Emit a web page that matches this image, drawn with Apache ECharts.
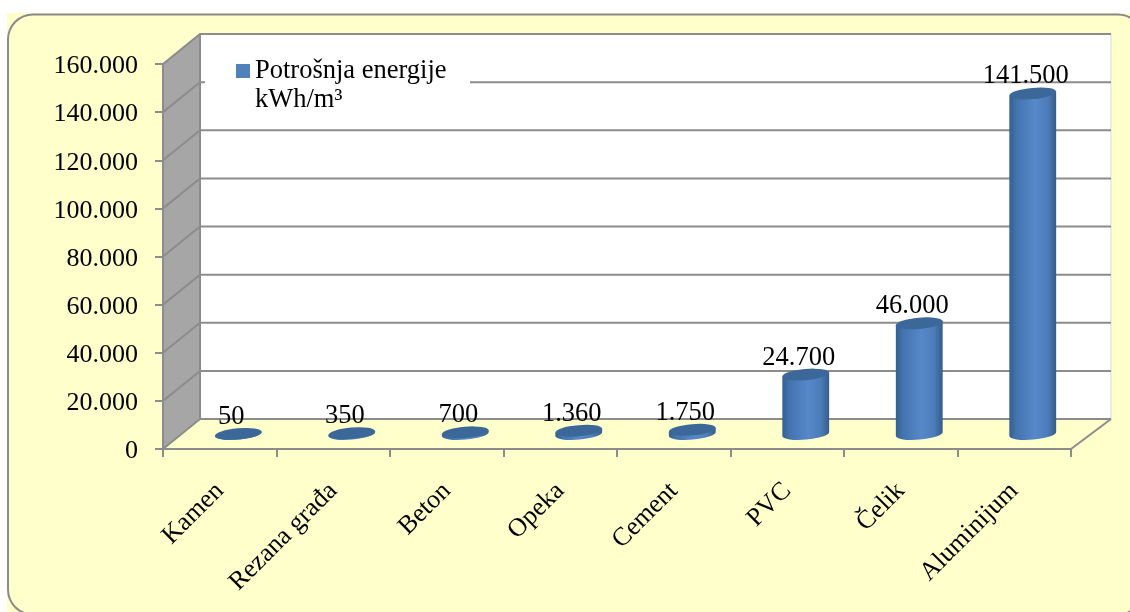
<!DOCTYPE html>
<html>
<head>
<meta charset="utf-8">
<style>
  html, body { margin: 0; padding: 0; background: #fff; }
  #chart { width: 1130px; height: 612px; }
</style>
<script src="https://cdn.jsdelivr.net/npm/echarts@6/dist/echarts.min.js"></script>
</head>
<body>
<div id="chart"></div>
<script>
const categories = ['Kamen', 'Rezana građa', 'Beton', 'Opeka', 'Cement', 'PVC', 'Čelik', 'Aluminijum'];
const energy = [50, 350, 700, 1360, 1750, 24700, 46000, 141500];
const yTicks = [0, 20000, 40000, 60000, 80000, 100000, 120000, 140000, 160000];
const seriesName = 'Potrošnja energije';
const unitName = 'kWh/m³';

const FONT = '"Liberation Serif"';
const LINE = '#8c8c8c';
// depth of the fake 3d box, front plane to back wall
const DX = 37;
const DY = -30;
const BACK_EXTRA = 3;

function fmt(v) {
  return String(v).replace(/\B(?=(\d{3})+$)/g, '.');
}

function renderWalls(params, api) {
  const a = api.coord([0, 0]);
  const t = api.coord([0, 160000]);
  const left = params.coordSys.x;
  const right = left + params.coordSys.width;
  const bottom = a[1];
  const top = t[1];
  return {
    type: 'group',
    children: [
      { type: 'rect', shape: { x: left + DX, y: top + DY, width: right - left + BACK_EXTRA, height: bottom - top }, style: { fill: '#fff' } },
      { type: 'polyline', shape: { points: [[right + DX + BACK_EXTRA, top + DY], [right + DX + BACK_EXTRA, bottom + DY]] }, style: { stroke: '#e6e6e0', lineWidth: 1.5, fill: null } },
      { type: 'polygon', shape: { points: [[left, top], [left + DX, top + DY], [left + DX, bottom + DY], [left, bottom]] }, style: { fill: '#a6a6a6' } },
      { type: 'polyline', shape: { points: [[left + DX, top + DY], [left + DX, bottom + DY]] }, style: { stroke: LINE, lineWidth: 2, fill: null } },
      { type: 'polyline', shape: { points: [[right, bottom], [right + DX + BACK_EXTRA, bottom + DY]] }, style: { stroke: LINE, lineWidth: 2, fill: null } }
    ]
  };
}

function renderGrid(params, api) {
  const p = api.coord([0, api.value(0)]);
  const left = params.coordSys.x;
  const right = left + params.coordSys.width;
  return {
    type: 'polyline',
    shape: { points: [[left, p[1]], [left + DX, p[1] + DY], [right + DX + BACK_EXTRA, p[1] + DY]] },
    style: { stroke: LINE, lineWidth: 2, fill: null }
  };
}

function renderCylinder(params, api) {
  const base = api.coord([api.value(0), 0]);
  const top = api.coord([api.value(0), api.value(1)]);
  const cx = base[0] + DX / 2;
  const by = base[1] + DY / 2;
  const ty = top[1] + DY / 2;
  const rx = 23.5;
  const ry = 5.6;
  const tilt = -5;
  const ddx = rx * Math.cos(tilt * Math.PI / 180);
  const ddy = rx * Math.sin(tilt * Math.PI / 180);
  const lx = cx - ddx, rxx = cx + ddx;
  const arc = 'A' + rx + ' ' + ry + ' ' + tilt + ' 0 ';
  const body = 'M' + lx + ' ' + (ty - ddy) + ' L' + lx + ' ' + (by - ddy) +
    ' ' + arc + '0 ' + rxx + ' ' + (by + ddy) + ' L' + rxx + ' ' + (ty + ddy) + ' Z';
  const cap = 'M' + lx + ' ' + (ty - ddy) + ' ' + arc + '1 ' + rxx + ' ' + (ty + ddy) +
    ' ' + arc + '1 ' + lx + ' ' + (ty - ddy) + ' Z';
  return {
    type: 'group',
    children: [
      {
        type: 'path',
        shape: { pathData: body },
        style: {
          fill: new echarts.graphic.LinearGradient(0, 0, 1, 0, [
            { offset: 0, color: '#355f8e' },
            { offset: 0.15, color: '#4474ae' },
            { offset: 0.55, color: '#5688ca' },
            { offset: 0.82, color: '#4c7cb8' },
            { offset: 1, color: '#355c8a' }
          ])
        }
      },
      { type: 'path', shape: { pathData: cap }, style: { fill: '#3c6899' } },
      {
        type: 'text',
        style: {
          x: cx - 7, y: ty - 17,
          text: fmt(api.value(1)),
          font: '26.5px ' + FONT,
          fill: '#000',
          align: 'center',
          verticalAlign: 'middle'
        }
      }
    ]
  };
}

const chart = echarts.init(document.getElementById('chart'), null, { renderer: 'canvas' });
chart.setOption({
  animation: false,
  backgroundColor: '#fff',
  textStyle: { fontFamily: FONT },
  graphic: [
    { type: 'rect', z: -10, shape: { x: 7, y: 13, width: 1123, height: 599 }, style: { fill: '#ffffcc' } },
    { type: 'rect', z: -9, shape: { x: 8, y: 14.5, width: 1135, height: 600, r: 25 }, style: { fill: 'none', stroke: '#8a8a8a', lineWidth: 2 } },
    // white box behind the legend, it cuts the gridlines
    { type: 'rect', z: 2, shape: { x: 205, y: 48, width: 265, height: 78 }, style: { fill: '#fff' } }
  ],
  grid: { left: 163, right: 59, top: 64, height: 385 },
  legend: {
    left: 236,
    top: 27.5,
    orient: 'vertical',
    icon: 'rect',
    itemWidth: 14,
    itemHeight: 14,
    itemGap: 6,
    padding: 0,
    data: [{ name: seriesName, itemStyle: { color: '#4f81bd' } }],
    // blank first line keeps the marker level with the first text line
    formatter: function (n) { return ' \n' + n + '\n' + unitName; },
    textStyle: { fontFamily: FONT, fontSize: 26.5, lineHeight: 29, color: '#000' }
  },
  xAxis: {
    type: 'category',
    data: categories,
    z: 5,
    axisLine: { lineStyle: { color: LINE, width: 2 } },
    axisTick: { show: true, alignWithLabel: false, length: 8, lineStyle: { color: LINE, width: 2 } },
    axisLabel: { rotate: 45, interval: 0, margin: 38, fontSize: 26, color: '#000', fontFamily: FONT }
  },
  yAxis: {
    type: 'value',
    min: 0,
    max: 160000,
    interval: 20000,
    z: 5,
    splitLine: { show: false },
    axisLine: { show: true, lineStyle: { color: LINE, width: 2 } },
    axisTick: { show: true, length: 8, lineStyle: { color: LINE, width: 2 } },
    axisLabel: {
      margin: 25,
      color: '#000',
      formatter: function (v) { return '{t|' + fmt(v) + '}'; },
      rich: { t: { fontSize: 26, fontFamily: FONT, color: '#000', padding: [5, 0, 0, 0] } }
    }
  },
  series: [
    { type: 'custom', name: 'walls', silent: true, z: 1, renderItem: renderWalls, data: [[0]], encode: { y: 0 }, tooltip: { show: false } },
    { type: 'custom', name: 'grid', silent: true, z: 1.5, renderItem: renderGrid, data: yTicks.map(function (v) { return [v]; }), encode: { y: 0 } },
    {
      type: 'custom',
      name: seriesName,
      z: 3,
      renderItem: renderCylinder,
      data: energy.map(function (v, i) { return [i, v]; }),
      encode: { x: 0, y: 1 },
      clip: false
    }
  ]
});
</script>
</body>
</html>
